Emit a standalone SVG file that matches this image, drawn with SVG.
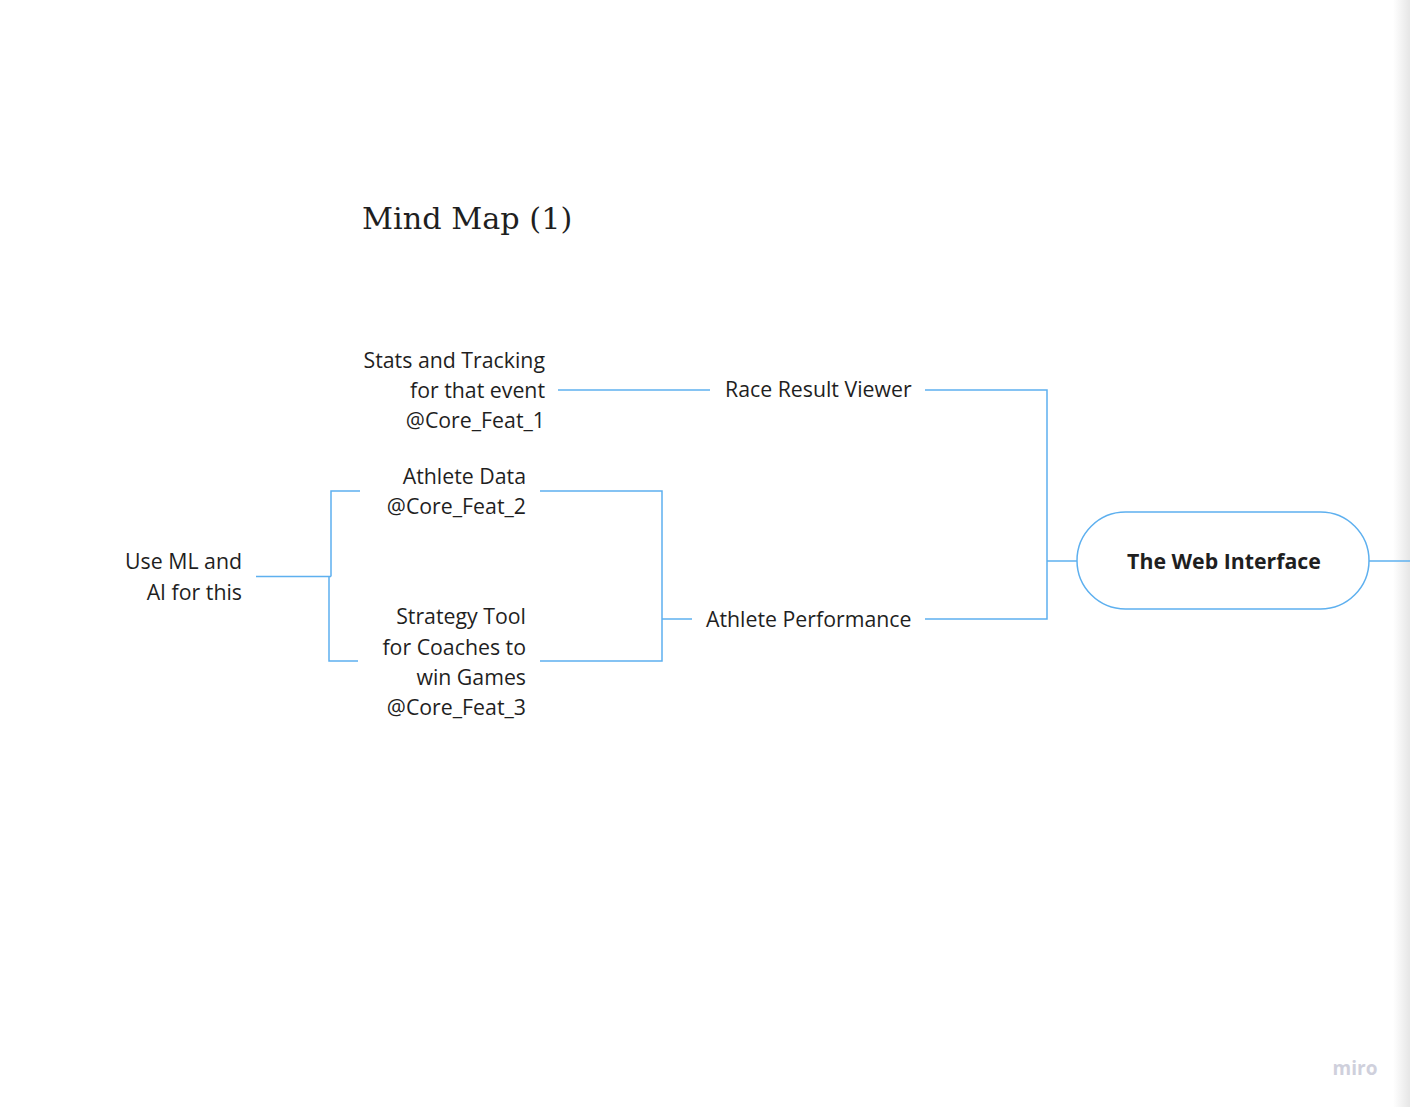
<svg xmlns="http://www.w3.org/2000/svg" width="1410" height="1107" viewBox="0 0 1410 1107">
<defs>
<linearGradient id="edge" x1="0" y1="0" x2="1" y2="0">
<stop offset="0" stop-color="#ffffff"/>
<stop offset="1" stop-color="#e6e6e6"/>
</linearGradient>
</defs>
<style>
.lbl{font-family:"Open Sans","DejaVu Sans",sans-serif;font-size:21.3px;fill:#1f1f1f;}
.r{text-anchor:end;}
.c{text-anchor:middle;}
.ln{fill:none;stroke:#5eb0ef;stroke-width:1.5;}
</style>
<rect x="0" y="0" width="1410" height="1107" fill="#ffffff"/>
<rect x="1393" y="0" width="17" height="1107" fill="url(#edge)"/>
<text x="362" y="229" font-family="'DejaVu Serif','Liberation Serif',serif" font-size="30.3" fill="#1f1f1f">Mind Map (1)</text>
<g id="connectors">
<path class="ln" d="M558 390H710"/>
<path class="ln" d="M925 390H1047V619H925"/>
<path class="ln" d="M1047 561H1077"/>
<path class="ln" d="M1369 561H1410"/>
<path class="ln" d="M692 619H662"/>
<path class="ln" d="M540 491H662V661H540"/>
<path class="ln" d="M360 491H331V576.5"/>
<path class="ln" d="M256 576.5H331"/>
<path class="ln" d="M358 661H329V576.5"/>
</g>
<g id="node-root">
<rect x="1077" y="512" width="292" height="97" rx="48.5" ry="48.5" fill="#ffffff" stroke="#5eb0ef" stroke-width="1.5"/>
<text class="lbl c" x="1224" y="569" font-weight="bold">The Web Interface</text>
</g>
<g id="node-race">
<text class="lbl" x="725" y="397">Race Result Viewer</text>
</g>
<g id="node-perf">
<text class="lbl" x="706" y="627">Athlete Performance</text>
</g>
<g id="node-stats">
<text class="lbl r" x="545" y="368">Stats and Tracking</text>
<text class="lbl r" x="545" y="398">for that event</text>
<text class="lbl r" x="545" y="428">@Core_Feat_1</text>
</g>
<g id="node-athlete-data">
<text class="lbl r" x="526" y="484">Athlete Data</text>
<text class="lbl r" x="526" y="514">@Core_Feat_2</text>
</g>
<g id="node-strategy">
<text class="lbl r" x="526" y="624">Strategy Tool</text>
<text class="lbl r" x="526" y="655">for Coaches to</text>
<text class="lbl r" x="526" y="685">win Games</text>
<text class="lbl r" x="526" y="715">@Core_Feat_3</text>
</g>
<g id="node-ml">
<text class="lbl r" x="242" y="569">Use ML and</text>
<text class="lbl r" x="242" y="600">AI for this</text>
</g>
<text x="1355" y="1075" text-anchor="middle" font-family="'Open Sans','DejaVu Sans',sans-serif" font-size="19" font-weight="bold" fill="#cfd0dc">miro</text>
</svg>
